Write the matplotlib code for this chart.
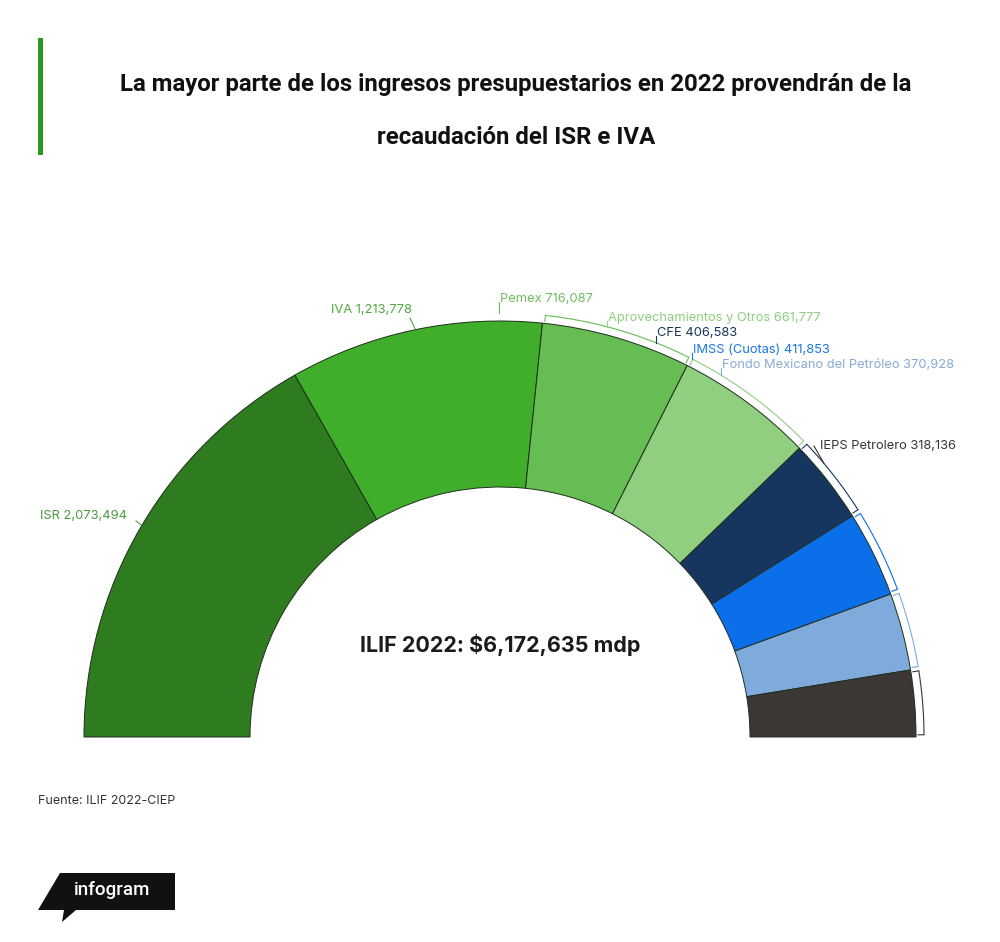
import numpy as np
import matplotlib
matplotlib.use("Agg")
import matplotlib.pyplot as plt
from matplotlib.patches import Polygon, Rectangle

# data (millones de pesos)
categories = ["ISR", "IVA", "Pemex", "Aprovechamientos y Otros", "CFE",
              "IMSS (Cuotas)", "Fondo Mexicano del Petróleo", "IEPS Petrolero"]
values = [2073494, 1213778, 716087, 661777, 406583, 411853, 370928, 318136]
colors = ["#2e7b20", "#40ad2b", "#65bd54", "#8fcf7f", "#17365f",
          "#0b6fea", "#7eaadc", "#3a3734"]
label_colors = ["#4d9a42", "#4fa83f", "#6cbf5c", "#8fcf7f", "#17365f",
                "#1a78e6", "#86acd8", "#3a3734"]
total_label = "ILIF 2022: $6,172,635 mdp"

W, H = 1000, 942
plt.rcParams['font.family'] = ['Inter', 'DejaVu Sans']

fig = plt.figure(figsize=(W / 100, H / 100), dpi=100)
ax = fig.add_axes([0, 0, 1, 1])

def P(x, y):
    # pixel coords (y down) -> axes coords (y up)
    return x, H - y

cx, cy = P(500, 737)
R = 416
inner = 250

total = sum(values)
wedges, _ = ax.pie(values + [total], startangle=180, counterclock=False,
                   center=(cx, cy), radius=R, frame=True,
                   colors=colors + ["none"],
                   wedgeprops=dict(width=R - inner, edgecolor="#1f2e1c", linewidth=0.7))
wedges[-1].set_edgecolor("none")
ax.set_xlim(0, W)
ax.set_ylim(0, H)
ax.set_aspect('equal')
ax.axis('off')

# slice angles (degrees, counter-clockwise from +x)
bounds = 180 - np.concatenate([[0], np.cumsum(values)]) / total * 180

# brackets around the small slices
rb = R + 8
for i in range(2, len(values)):
    a0, a1 = bounds[i] - 0.3, bounds[i + 1] + 0.3
    t = np.radians(np.linspace(a0, a1, 60))
    ax.plot(cx + rb * np.cos(t), cy + rb * np.sin(t), color=colors[i], lw=0.8,
            solid_capstyle='butt')
    for a in (a0, a1):
        ar = np.radians(a)
        ax.plot([cx + (R + 2) * np.cos(ar), cx + rb * np.cos(ar)],
                [cy + (R + 2) * np.sin(ar), cy + rb * np.sin(ar)],
                color=colors[i], lw=0.8)

# labels: (x, y) pixel position of the text
label_pos = [(40, 516), (331, 310), (500, 299), (608, 318),
             (657, 333), (693, 350), (722, 365), (820, 446)]
for i, (name, v) in enumerate(zip(categories, values)):
    x, y = label_pos[i]
    ax.text(*P(x, y), f"{name} {v:,}", color=label_colors[i], fontsize=9.3,
            ha='left', va='center')

# short leader lines
def rim(x, r):
    return np.sqrt(r ** 2 - (x - 500) ** 2)

for i, (lx, ly) in enumerate([(136, 521), (410, 318)]):
    ex = lx + 5
    ey = 737 - rim(ex, R + 1)
    ax.plot(*zip(P(lx, ly), P(ex, ey)), color=label_colors[i], lw=0.8)
for i in range(2, len(values)):
    x, y = label_pos[i]
    if i == 7:
        x0 = x - 6
        ey = 737 - rim(x0 + 10, rb)
        ax.plot(*zip(P(x0, y), P(x0 + 10, ey)), color=label_colors[i], lw=0.8)
    else:
        x0 = x - 1
        ey = 737 - rim(x0, rb)
        ax.plot(*zip(P(x0, y + 3), P(x0, ey)), color=label_colors[i], lw=0.8)

# center total
ax.text(*P(500, 645), total_label, fontsize=15.5, fontweight='bold',
        color="#1b1b1b", ha='center', va='center')

# title block
ax.add_patch(Rectangle(P(38, 155), 5, 117, color="#2a9a1e", lw=0))
title_font = dict(fontsize=17.3, fontweight='bold', color="#111111",
                  ha='center', va='center', family=['Roboto', 'DejaVu Sans'])
ax.text(*P(516, 85), "La mayor parte de los ingresos presupuestarios en 2022 provendrán de la",
        **title_font)
ax.text(*P(516, 137), "recaudación del ISR e IVA", **title_font)

# source
ax.text(*P(38, 801), "Fuente: ILIF 2022-CIEP", fontsize=9, color="#333333",
        ha='left', va='center')

# infogram logo
logo = [(60, 873), (175, 873), (175, 910), (76, 910), (62, 922), (64, 910), (38, 910)]
ax.add_patch(Polygon([P(x, y) for x, y in logo], closed=True, color="#111111", lw=0))
ax.text(*P(112, 890), "infogram", fontsize=13.5, color="white", ha='center',
        va='center', family=['Roboto', 'DejaVu Sans'], fontweight='medium')

fig.savefig("out.png", dpi=100, facecolor="white")
